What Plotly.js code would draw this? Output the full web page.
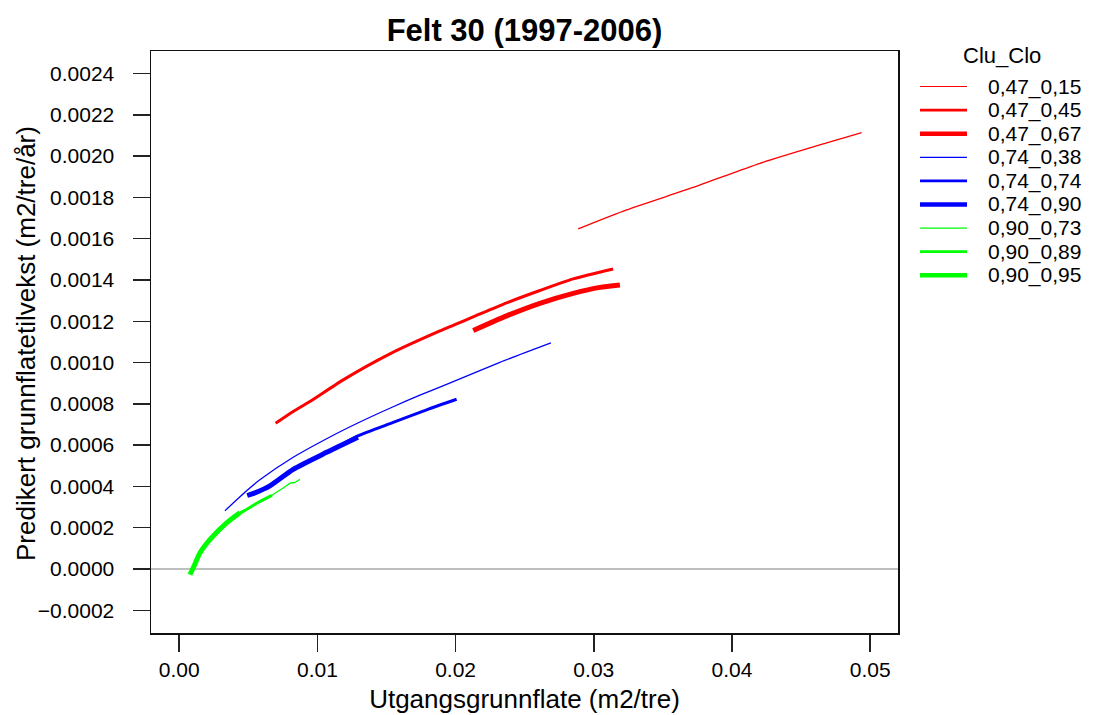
<!DOCTYPE html>
<html><head><meta charset="utf-8">
<script src="https://cdn.plot.ly/plotly-3.0.1.min.js"></script>
<style>html,body{margin:0;padding:0;background:#fff}</style>
</head><body><div id="chart" style="width:1101px;height:715px"></div>
<script>
// ---- data ----
const seriesNames = ['0,47_0,15','0,47_0,45','0,47_0,67','0,74_0,38','0,74_0,74','0,74_0,90','0,90_0,73','0,90_0,89','0,90_0,95'];
const legendTitle = 'Clu_Clo';
const chartTitle = 'Felt 30 (1997-2006)';
const xTitle = 'Utgangsgrunnflate (m2/tre)';
const yTitle = 'Predikert grunnflatetilvekst (m2/tre/år)';

const x_047_015 = [0.02887,0.03237,0.03719,0.04202,0.04685,0.04938];
const y_047_015 = [0.001647,0.001739,0.001848,0.001965,0.002064,0.002114];

const x_047_045 = [0.006975,0.008249,0.009457,0.011867,0.015246,0.018864,0.021274,0.02369,0.0261,0.02851,0.0314];
const y_047_045 = [0.000706,0.000763,0.000811,0.000916,0.001042,0.001153,0.001221,0.001289,0.001349,0.001405,0.001453];

const x_047_067 = [0.021274,0.02369,0.0261,0.02851,0.030442,0.03189];
const y_047_067 = [0.001155,0.001226,0.001287,0.001335,0.001364,0.001376];

const x_074_038 = [0.003307,0.004877,0.005839,0.008249,0.010666,0.013075,0.015485,0.017417,0.019349,0.023206,0.026896];
const y_074_038 = [0.000282,0.000379,0.000432,0.000541,0.000631,0.000712,0.000786,0.000842,0.000894,0.001001,0.001095];

const x_074_074 = [0.01199,0.012931,0.015485,0.017902,0.020072];
const y_074_074 = [0.000611,0.000645,0.00071,0.000771,0.000822];

const x_074_090 = [0.00492,0.005478,0.006563,0.008249,0.010666,0.012931];
const y_074_090 = [0.000356,0.000369,0.000403,0.000483,0.000565,0.000638];

const x_090_073 = [0.006563,0.007525,0.00801,0.008372,0.008734];
const y_090_073 = [0.000351,0.000392,0.000415,0.00042,0.000435];

const x_090_089 = [0.004103,0.004631,0.005839,0.006708];
const y_090_089 = [0.00026,0.000279,0.000327,0.000357];

const x_090_095 = [0.000774,0.001013,0.001498,0.002221,0.00343,0.004392];
const y_090_095 = [-0.0000276,0.0000048,0.0000774,0.000142,0.000223,0.000272];

const xTickVals = [0, 0.01, 0.02, 0.03, 0.04, 0.05];
const yTickVals = [-0.0002,0,0.0002,0.0004,0.0006,0.0008,0.0010,0.0012,0.0014,0.0016,0.0018,0.0020,0.0022,0.0024];

// ---- styles ----
const seriesX = [x_047_015,x_047_045,x_047_067,x_074_038,x_074_074,x_074_090,x_090_073,x_090_089,x_090_095];
const seriesY = [y_047_015,y_047_045,y_047_067,y_074_038,y_074_074,y_074_090,y_090_073,y_090_089,y_090_095];
const colors = ['#FF0000','#FF0000','#FF0000','#0000FF','#0000FF','#0000FF','#00FF00','#00FF00','#00FF00'];
const widths = [1.3,3,5,1.3,3,5,1.3,3,5];
const legendWidths = [1.2,2.8,4.5,1.2,2.8,4.5,1.2,2.8,4.5];

const FONT = 'Liberation Sans, Arial, sans-serif';
const W = 1101, H = 715;
const L = 151, R = 898, T = 51, B = 633;

const traces = seriesNames.map((n,i)=>({
  type:'scatter', mode:'lines', name:n, x:seriesX[i], y:seriesY[i],
  line:{color:colors[i], width:widths[i], shape:'spline', smoothing:0.6},
  showlegend:false, hoverinfo:'skip'
}));

// custom legend (R style)
const px2x = p => (p - L)/(R - L);
const py2y = p => (B - p)/(B - T);
const shapes = [], annotations = [];
annotations.push({xref:'paper',yref:'paper',x:px2x(1002),y:py2y(56),text:legendTitle,showarrow:false,
  xanchor:'center',yanchor:'middle',font:{family:FONT,size:22,color:'#000'}});
seriesNames.forEach((n,i)=>{
  const py = 86.5 + 23.6*i;
  shapes.push({type:'line',xref:'paper',yref:'paper',x0:px2x(920),x1:px2x(967),y0:py2y(py),y1:py2y(py),
    line:{color:colors[i],width:legendWidths[i]}});
  annotations.push({xref:'paper',yref:'paper',x:px2x(986),y:py2y(py),text:n,showarrow:false,
    xanchor:'left',yanchor:'middle',font:{family:FONT,size:21,color:'#000'}});
});
// y axis title
annotations.push({xref:'paper',yref:'paper',x:px2x(26),y:py2y(344),text:yTitle,showarrow:false,textangle:-90,
  xanchor:'center',yanchor:'middle',font:{family:FONT,size:26,color:'#000'}});

const layout = {
  width:W, height:H,
  margin:{l:L, r:W-R, t:T, b:H-B, pad:0},
  paper_bgcolor:'#fff', plot_bgcolor:'#fff',
  font:{family:FONT, color:'#000'},
  title:{text:'<b>'+chartTitle+'</b>', x:0.5, xref:'paper', y:1-30/H, yref:'container', yanchor:'middle',
    font:{family:FONT,size:31,color:'#000'}},
  xaxis:{range:[-0.00204,0.05201], tickvals:xTickVals, tickformat:'.2f', ticks:'outside', ticklen:17, tickwidth:1.5,
    tickcolor:'#222', showline:true, mirror:true, linecolor:'#111', linewidth:1.5, showgrid:false, zeroline:false,
    tickfont:{family:FONT,size:21,color:'#000'}, ticklabelstandoff:0,
    title:{text:xTitle, font:{family:FONT,size:26,color:'#000'}, standoff:10}},
  yaxis:{range:[-0.00031,0.002509], tickvals:yTickVals, tickformat:'.4f', ticks:'outside', ticklen:17, tickwidth:1.5,
    tickcolor:'#222', showline:true, mirror:true, linecolor:'#111', linewidth:1.5, showgrid:false,
    zeroline:true, zerolinecolor:'#BEBEBE', zerolinewidth:1.5,
    tickfont:{family:FONT,size:21,color:'#000'}, ticklabelstandoff:14},
  shapes:shapes, annotations:annotations
};

Plotly.newPlot('chart', traces, layout, {displayModeBar:false, staticPlot:true});
</script></body></html>
